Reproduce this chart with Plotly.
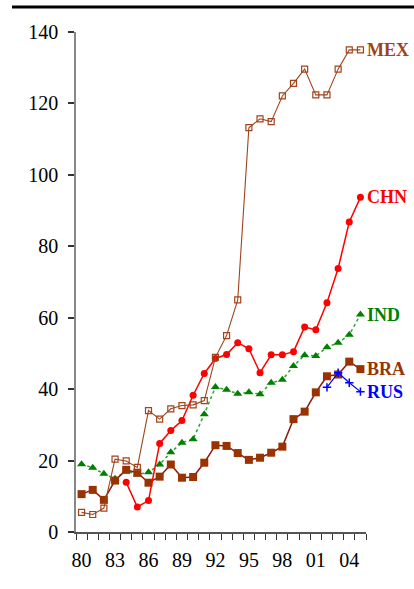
import plotly.graph_objects as go

years = list(range(1980, 2006))

mex = [5.5, 4.9, 6.7, 20.4, 19.9, 18.1, 34.0, 31.6, 34.5, 35.4, 35.6, 36.8, 48.9,
       55.0, 65.0, 113.2, 115.7, 114.9, 122.1, 125.6, 129.6, 122.4, 122.4, 129.6,
       135.0, 135.0]
bra = [10.6, 11.8, 9.0, 14.4, 17.4, 16.6, 13.8, 15.5, 18.9, 15.2, 15.4, 19.4, 24.3,
       24.1, 22.1, 20.2, 20.8, 22.2, 23.9, 31.6, 33.7, 39.1, 43.6, 44.1, 47.7, 45.6]
ind = [19.0, 18.0, 16.3, 14.9, 17.2, 16.1, 16.7, 18.9, 22.3, 25.0, 26.0, 33.0, 40.6,
       39.8, 38.7, 39.1, 38.6, 41.8, 42.6, 46.5, 49.5, 49.3, 51.7, 53.0, 55.2, 60.9]
chn_years = list(range(1984, 2006))
chn = [13.9, 7.0, 8.8, 24.8, 28.4, 31.2, 38.3, 44.4, 48.6, 49.7, 53.0, 51.3, 44.6,
       49.6, 49.6, 50.5, 57.4, 56.6, 64.2, 73.8, 86.8, 93.7]
rus_years = [2002, 2003, 2004, 2005]
rus = [40.5, 44.6, 41.8, 39.3]

tick_years = list(range(1980, 2006, 3))
tick_text = ["80", "83", "86", "89", "92", "95", "98", "01", "04"]

MEX_C = "#a0441c"
BRA_C = "#993300"
BRA_LINE = "#8b1a10"
CHN_C = "#ff0000"
IND_C = "#008000"
RUS_C = "#0000ff"

fig = go.Figure()

fig.add_trace(go.Scatter(
    x=years, y=ind, mode="lines+markers",
    line=dict(color="#33a033", width=1.5, dash="dot"),
    marker=dict(symbol="triangle-up", size=8, color=IND_C)))
fig.add_trace(go.Scatter(
    x=years, y=bra, mode="lines+markers",
    line=dict(color=BRA_LINE, width=1.5),
    marker=dict(symbol="square", size=8, color=BRA_C)))
fig.add_trace(go.Scatter(
    x=chn_years, y=chn, mode="lines+markers",
    line=dict(color=CHN_C, width=1.5),
    marker=dict(symbol="circle", size=7, color=CHN_C)))
fig.add_trace(go.Scatter(
    x=years, y=mex, mode="lines+markers",
    line=dict(color=MEX_C, width=1.1),
    marker=dict(symbol="square-open", size=6, color=MEX_C, line=dict(width=1.2))))
fig.add_trace(go.Scatter(
    x=rus_years, y=rus, mode="lines+markers",
    line=dict(color=RUS_C, width=1.2),
    marker=dict(symbol="cross-thin", size=6, line=dict(color=RUS_C, width=1.5))))

labels = [("MEX", mex[-1], MEX_C), ("CHN", chn[-1], CHN_C), ("IND", ind[-1], IND_C),
          ("BRA", bra[-1], BRA_C), ("RUS", rus[-1], RUS_C)]
for name, val, col in labels:
    fig.add_annotation(
        x=2005, y=val, text="<b>%s</b>" % name, showarrow=False,
        xanchor="left", yanchor="middle", xshift=5,
        font=dict(family="Liberation Serif", size=18, color=col))

# heavy rule across the top of the page
fig.add_shape(type="line", xref="paper", yref="paper",
              x0=(12 - 76) / 290, x1=(414 - 76) / 290,
              y0=(532 - 7) / 500, y1=(532 - 7) / 500,
              line=dict(color="black", width=3))

fig.update_layout(
    width=414, height=589,
    margin=dict(l=76, r=48, t=32, b=57),
    paper_bgcolor="white", plot_bgcolor="white",
    showlegend=False,
    font=dict(family="Liberation Serif", size=20, color="black"),
    xaxis=dict(
        range=[1979.5, 2005.5], showgrid=False, zeroline=False,
        tickmode="array", tickvals=tick_years, ticktext=tick_text,
        ticks="", showline=True, linecolor="#555", linewidth=1.5,
        ticklabelstandoff=9,
        minor=dict(ticks="outside", tick0=1979.5, dtick=1, ticklen=6,
                   tickcolor="#333", tickwidth=1, showgrid=False)),
    yaxis=dict(
        range=[0, 140], showgrid=False, zeroline=False,
        tickmode="linear", tick0=0, dtick=20,
        ticks="outside", ticklen=6, tickcolor="#333", tickwidth=1.5,
        showline=True, linecolor="#888", linewidth=1.5,
        ticklabelstandoff=6),
)

fig.write_html("out.html")
